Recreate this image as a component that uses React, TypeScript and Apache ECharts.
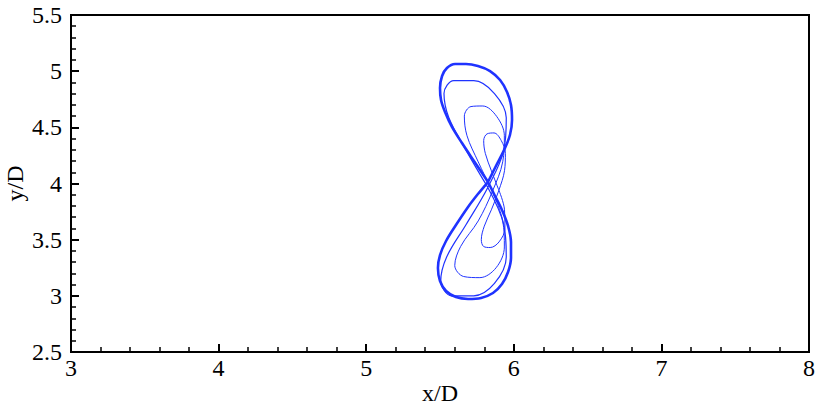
import React, { useEffect, useRef } from 'react';
import * as echarts from 'echarts';

// Axis ranges / tick labels
const xRange = [3, 8];
const yRange = [2.5, 5.5];
const xInterval = 1;
const yInterval = 0.5;
const xName = 'x/D';
const yName = 'y/D';

// Trajectory loops (x/D, y/D)
const loopInner: [number, number][] = [
  [5.899, 3.94], [5.848, 4.114], [5.807, 4.268], [5.796, 4.382], [5.819, 4.442], [5.866, 4.45],
  [5.915, 4.382], [5.943, 4.268], [5.937, 4.114], [5.899, 3.94], [5.848, 3.766], [5.8, 3.62],
  [5.78, 3.5], [5.795, 3.44], [5.84, 3.43], [5.9, 3.48], [5.94, 3.6], [5.937, 3.766], [5.899, 3.94],
];

const loopThird: [number, number][] = [
  [5.855, 3.93], [5.759, 4.193], [5.683, 4.425], [5.665, 4.6], [5.71, 4.685], [5.79, 4.69],
  [5.884, 4.597], [5.936, 4.425], [5.925, 4.193], [5.855, 3.93], [5.759, 3.667], [5.64, 3.44],
  [5.6, 3.27], [5.66, 3.172], [5.77, 3.162], [5.88, 3.25], [5.936, 3.435], [5.925, 3.667], [5.855, 3.93],
];

const loopSecond: [number, number][] = [
  [5.824, 3.965], [5.677, 4.295], [5.56, 4.585], [5.527, 4.801], [5.593, 4.915], [5.729, 4.915],
  [5.869, 4.801], [5.949, 4.585], [5.932, 4.295], [5.824, 3.965], [5.677, 3.635], [5.545, 3.345],
  [5.505, 3.129], [5.58, 3.0], [5.729, 3.0], [5.869, 3.11], [5.949, 3.345], [5.932, 3.635], [5.824, 3.965],
];

const limitCycle: [number, number][] = [
  [5.825, 4.013], [5.879, 4.156], [5.934, 4.298], [5.974, 4.432], [5.988, 4.565], [5.981, 4.699],
  [5.954, 4.815], [5.907, 4.921], [5.839, 5.001], [5.757, 5.046], [5.676, 5.064], [5.602, 5.064],
  [5.547, 5.028], [5.514, 4.957], [5.5, 4.85], [5.507, 4.743], [5.534, 4.636], [5.581, 4.503],
  [5.649, 4.36], [5.73, 4.2], [5.785, 4.093], [5.825, 4.013], [5.866, 3.906], [5.92, 3.764],
  [5.961, 3.622], [5.981, 3.479], [5.981, 3.337], [5.961, 3.212], [5.92, 3.105], [5.859, 3.025],
  [5.778, 2.981], [5.69, 2.972], [5.608, 2.989], [5.541, 3.043], [5.5, 3.132], [5.486, 3.248],
  [5.5, 3.363], [5.541, 3.488], [5.608, 3.63], [5.69, 3.791], [5.757, 3.906], [5.825, 4.013],
];

const FONT = 'Liberation Serif';
const BLUE = '#1f33ff';

export default function App() {
  const ref = useRef<HTMLDivElement>(null);
  useEffect(() => {
    if (!ref.current) return;
    const chart = echarts.init(ref.current, null, { renderer: 'svg' });
    const axisCommon = {
      axisLine: { show: true, lineStyle: { color: '#000', width: 2 } },
      axisTick: { show: true, inside: true, length: 8, lineStyle: { color: '#000', width: 2 } },
      minorTick: { show: true, splitNumber: 5, length: 5, lineStyle: { color: '#000', width: 1.5 } },
      splitLine: { show: false },
      minorSplitLine: { show: false },
      nameLocation: 'middle' as const,
      nameMoveOverlap: false,
      nameTextStyle: { color: '#000', fontFamily: FONT, fontSize: 24 },
    };
    const mk = (data: [number, number][], width: number) => ({
      type: 'line',
      data,
      smooth: 0.35,
      showSymbol: false,
      symbol: 'none',
      lineStyle: { color: BLUE, width },
      silent: true,
    });
    chart.setOption({
      animation: false,
      grid: {
        left: 71, right: 21, top: 15, bottom: 54,
        containLabel: false, outerBoundsMode: 'none',
        show: true, borderColor: '#000', borderWidth: 2, backgroundColor: 'transparent',
      },
      xAxis: {
        type: 'value', min: xRange[0], max: xRange[1], interval: xInterval,
        name: xName, nameGap: 29,
        ...axisCommon,
        axisLabel: { color: '#000', fontFamily: FONT, fontSize: 24, margin: 4 },
      },
      yAxis: {
        type: 'value', min: yRange[0], max: yRange[1], interval: yInterval,
        name: yName, nameGap: 44,
        ...axisCommon,
        axisLabel: { color: '#000', fontFamily: FONT, fontSize: 24, margin: 9 },
      },
      series: [
        mk(loopInner, 1),
        mk(loopThird, 1),
        mk(loopSecond, 1.2),
        mk(limitCycle, 2.6),
      ],
    });
    return () => chart.dispose();
  }, []);
  return (
    <div
      ref={ref}
      style={{ position: 'fixed', left: 0, top: 0, width: 830, height: 406, background: '#fff' }}
    />
  );
}
